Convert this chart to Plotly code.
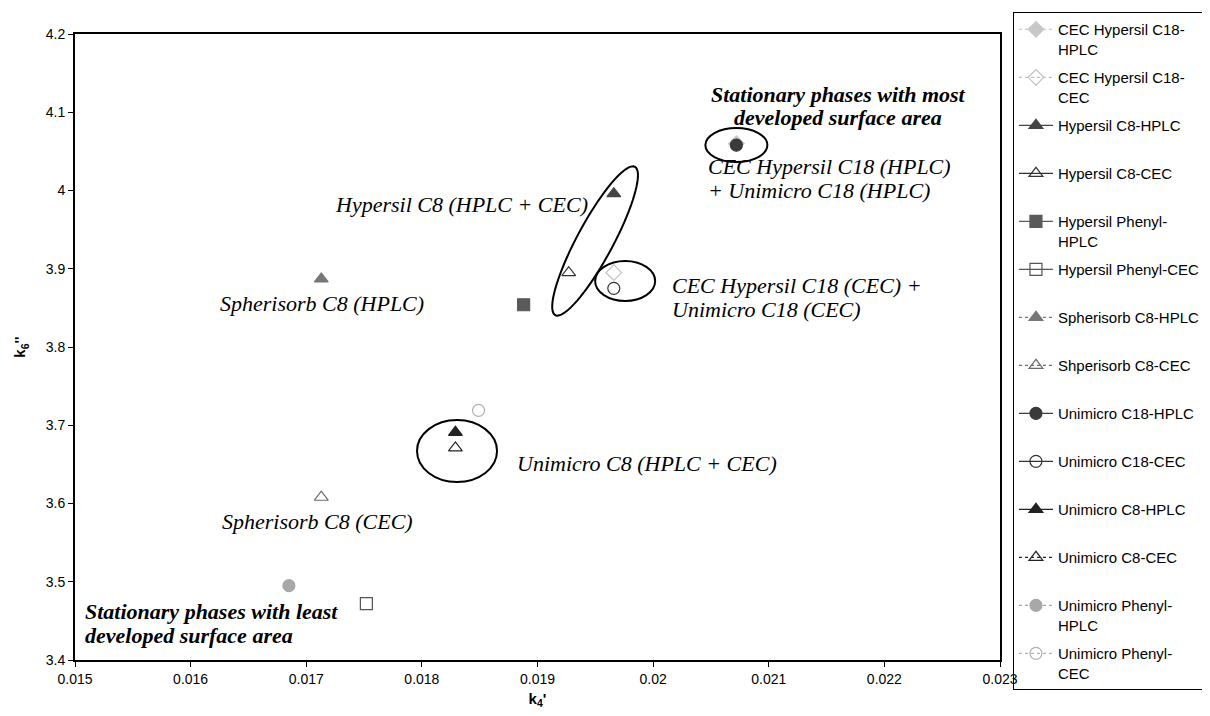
import numpy as np
import plotly.graph_objects as go

# ---- data ----
series_names = [
    "CEC Hypersil C18-<br>HPLC", "CEC Hypersil C18-<br>CEC", "Hypersil C8-HPLC", "Hypersil C8-CEC",
    "Hypersil Phenyl-<br>HPLC", "Hypersil Phenyl-CEC", "Spherisorb C8-HPLC", "Shperisorb C8-CEC",
    "Unimicro C18-HPLC", "Unimicro C18-CEC", "Unimicro C8-HPLC", "Unimicro C8-CEC",
    "Unimicro Phenyl-<br>HPLC", "Unimicro Phenyl-<br>CEC",
]
k4 = [0.02072, 0.01966, 0.01966, 0.01927, 0.01888, 0.01752, 0.01713, 0.01713,
      0.02072, 0.01966, 0.01829, 0.01829, 0.01685, 0.01849]
k6 = [4.060, 3.895, 3.996, 3.895, 3.854, 3.472, 3.887, 3.608,
      4.058, 3.875, 3.691, 3.671, 3.495, 3.719]
symbols = ["diamond", "diamond-open", "triangle-up", "triangle-up-open", "square", "square-open",
           "triangle-up", "triangle-up-open", "circle", "circle-open", "triangle-up",
           "triangle-up-open", "circle", "circle-open"]
colors = ["#c8c8c8", "#c0c0c0", "#454545", "#333333", "#5a5a5a", "#555555", "#777777", "#6a6a6a",
          "#3a3a3a", "#333333", "#222222", "#222222", "#a8a8a8", "#b0b0b0"]
dashes = ["dot", "dot", "solid", "solid", "solid", "solid", "dot", "dot",
          "solid", "solid", "solid", "dot", "dot", "dot"]

x_ticks = [0.015, 0.016, 0.017, 0.018, 0.019, 0.02, 0.021, 0.022, 0.023]
x_tick_text = ["0.015", "0.016", "0.017", "0.018", "0.019", "0.02", "0.021", "0.022", "0.023"]
y_ticks = [3.4, 3.5, 3.6, 3.7, 3.8, 3.9, 4.0, 4.1, 4.2]
y_tick_text = ["3.4", "3.5", "3.6", "3.7", "3.8", "3.9", "4", "4.1", "4.2"]

fig = go.Figure()
for i, name in enumerate(series_names):
    label = name if "<br>" in name else name + "<br>&nbsp;"
    fig.add_trace(go.Scatter(
        x=[k4[i]], y=[k6[i]], name=label, mode="lines+markers",
        marker=dict(symbol=symbols[i], size=12, color=colors[i],
                    line=dict(color=colors[i], width=1.2)),
        line=dict(color=colors[i], width=1.2, dash=dashes[i]),
        legendgroup=str(i),
    ))

# ---- ellipses (data units) ----
PX_X = 0.001 / 115.6
PX_Y = 0.1 / 78.25

def ell(cx, cy, ax, ay):
    fig.add_shape(type="circle", xref="x", yref="y", x0=cx - ax, x1=cx + ax,
                  y0=cy - ay, y1=cy + ay, line=dict(color="black", width=2))

ell(0.02072, 4.058, 31 * PX_X, 17 * PX_Y)
ell(0.019758, 3.8843, 30 * PX_X, 20 * PX_Y)
ell(0.018304, 3.667, 40 * PX_X, 31 * PX_Y)

# tilted ellipse around Hypersil C8
t = np.linspace(0, 2 * np.pi, 80)
a, b = 84.0, 18.0
ux, uy = 0.474, -0.883
vx, vy = 0.883, 0.474
dxp = a * np.cos(t) * ux + b * np.sin(t) * vx
dyp = a * np.cos(t) * uy + b * np.sin(t) * vy
cx, cy = 0.019498, 3.9355
xs = cx + dxp * PX_X
ys = cy - dyp * PX_Y
path = "M " + " L ".join(f"{x:.7f},{y:.5f}" for x, y in zip(xs, ys)) + " Z"
fig.add_shape(type="path", path=path, xref="x", yref="y", line=dict(color="black", width=2))

# ---- annotations (one per line) ----
serif = dict(family="Liberation Serif", size=22, color="black")
ann = [
    (0.0216, 4.1233, "<b><i>Stationary phases with most</i></b>", "center"),
    (0.0216, 4.0939, "<b><i>developed surface area</i></b>", "center"),
    (0.020459, 4.0313, "<i>CEC Hypersil C18 (HPLC)</i>", "left"),
    (0.020459, 3.9994, "<i>+ Unimicro C18 (HPLC)</i>", "left"),
    (0.019455, 3.9827, "<i>Hypersil C8 (HPLC + CEC)</i>", "right"),
    (0.020147, 3.8792, "<i>CEC Hypersil C18 (CEC) +</i>", "left"),
    (0.020147, 3.8473, "<i>Unimicro C18 (CEC)</i>", "left"),
    (0.017136, 3.8562, "<i>Spherisorb C8 (HPLC)</i>", "center"),
    (0.018806, 3.6505, "<i>Unimicro C8 (HPLC + CEC)</i>", "left"),
    (0.0171, 3.5764, "<i>Spherisorb C8 (CEC)</i>", "center"),
    (0.01507, 3.4626, "<b><i>Stationary phases with least</i></b>", "left"),
    (0.01507, 3.4319, "<b><i>developed surface area</i></b>", "left"),
]
for x, y, txt, xa in ann:
    fig.add_annotation(x=x, y=y, text=txt, showarrow=False, xanchor=xa, align=xa,
                       yanchor="middle", font=serif)

axis_common = dict(showgrid=False, zeroline=False, showline=True, linecolor="black",
                   linewidth=2, mirror=True, ticks="outside", ticklen=5, tickcolor="black",
                   tickfont=dict(family="Liberation Sans", size=14, color="black"))
fig.update_xaxes(range=[0.015, 0.023], tickvals=x_ticks, ticktext=x_tick_text,
                 title=dict(text="<b>k<sub>4</sub>'</b>", standoff=8,
                            font=dict(family="Liberation Sans", size=15, color="black")),
                 **axis_common)
fig.update_yaxes(range=[3.4, 4.2], tickvals=y_ticks, ticktext=y_tick_text,
                 title=dict(text="<b>k<sub>6</sub>''</b>", standoff=16,
                            font=dict(family="Liberation Sans", size=15, color="black")),
                 **axis_common)

fig.update_layout(
    width=1210, height=716,
    margin=dict(l=67, r=218, t=26, b=64, autoexpand=False),
    plot_bgcolor="white", paper_bgcolor="white",
    showlegend=True,
    legend=dict(x=1.014, xanchor="left", y=1.035, yanchor="top",
                bordercolor="black", borderwidth=1, bgcolor="rgba(255,255,255,0)",
                font=dict(family="Liberation Sans", size=15, color="black"),
                valign="top", tracegroupgap=6, itemwidth=34, maxheight=714),
)

fig.write_html("out.html")
